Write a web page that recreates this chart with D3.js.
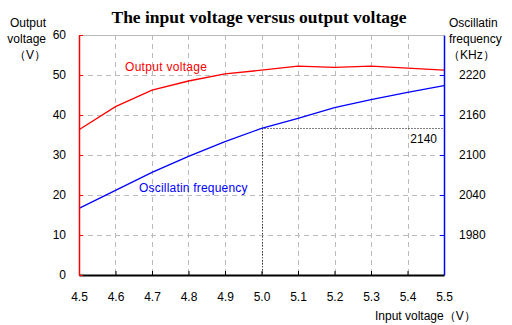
<!DOCTYPE html>
<html><head><meta charset="utf-8">
<script src="https://cdn.jsdelivr.net/npm/d3@7"></script>
<style>
body{margin:0;background:#fff;}
text{font-family:"Liberation Sans",Arial,sans-serif;}
</style></head>
<body><svg id="c" width="512" height="325"></svg>
<script>
const inputVoltage = [4.5, 4.6, 4.7, 4.8, 4.9, 5.0, 5.1, 5.2, 5.3, 5.4, 5.5];
const outputVoltage = [36.3, 42.1, 46.2, 48.5, 50.3, 51.2, 52.2, 51.9, 52.2, 51.7, 51.2];
const frequency = [2020, 2047, 2074, 2098, 2120, 2140, 2155, 2171, 2183, 2194, 2204];
const leftTicks = [0, 10, 20, 30, 40, 50, 60];
const rightTicks = [1980, 2040, 2100, 2160, 2220];
const xTicks = [4.5, 4.6, 4.7, 4.8, 4.9, 5.0, 5.1, 5.2, 5.3, 5.4, 5.5];
const markX = 5.0, markF = 2140;

const svg = d3.select("#c");
const L = 79, R = 444, T = 35, B = 275;
const x = d3.scaleLinear().domain([4.5, 5.5]).range([L, R]);
const yL = d3.scaleLinear().domain([0, 60]).range([B, T]);
const yR = d3.scaleLinear().domain([1920, 2280]).range([B, T]);

// grid
const g = svg.append("g");
g.selectAll(".hg").data(leftTicks.filter(d => d > 0 && d < 60)).enter().append("line")
  .attr("x1", L).attr("x2", R).attr("y1", d => yL(d) + 0.5).attr("y2", d => yL(d) + 0.5)
  .attr("stroke", "#bbb").attr("stroke-dasharray", "5,4");
g.selectAll(".vg").data(xTicks.filter(d => d > 4.5 && d < 5.5)).enter().append("line")
  .attr("x1", d => Math.round(x(d)) + 0.5).attr("x2", d => Math.round(x(d)) + 0.5).attr("y1", T).attr("y2", B)
  .attr("stroke", "#bbb").attr("stroke-dasharray", "5,4");
g.append("line").attr("x1", L).attr("x2", R).attr("y1", T + 0.5).attr("y2", T + 0.5).attr("stroke", "#bbb");

// dotted marker
svg.append("line").attr("x1", Math.round(x(markX)) + 0.5).attr("x2", Math.round(x(markX)) + 0.5)
  .attr("y1", yR(markF)).attr("y2", B).attr("stroke", "#000").attr("stroke-dasharray", "1,2");
svg.append("line").attr("x1", x(markX)).attr("x2", R).attr("y1", Math.round(yR(markF)) + 0.5).attr("y2", Math.round(yR(markF)) + 0.5)
  .attr("stroke", "#000").attr("stroke-dasharray", "1,2");
svg.append("text").attr("x", 437).attr("y", yR(markF) + 15).attr("text-anchor", "end")
  .attr("font-size", 12).text(String(markF));

// lines
const lineL = d3.line().x((d, i) => x(inputVoltage[i])).y(d => yL(d));
const lineR = d3.line().x((d, i) => x(inputVoltage[i])).y(d => yR(d));
svg.append("path").datum(outputVoltage).attr("d", lineL).attr("fill", "none").attr("stroke", "#f00").attr("stroke-width", 1.3);
svg.append("path").datum(frequency).attr("d", lineR).attr("fill", "none").attr("stroke", "#00f").attr("stroke-width", 1.3);

// axes
const ax = svg.append("g").attr("transform", `translate(0,${B})`)
  .call(d3.axisBottom(x).tickValues(xTicks).tickFormat(d3.format(".1f")).tickSizeInner(-4).tickSizeOuter(0).tickPadding(17));
ax.select(".domain").attr("stroke", "#000").attr("stroke-width", 2);
ax.selectAll("text").attr("font-size", 12).attr("fill", "#000");

const al = svg.append("g").attr("transform", `translate(${L},0)`)
  .call(d3.axisLeft(yL).tickValues(leftTicks).tickSizeInner(-4).tickSizeOuter(0).tickPadding(13));
al.select(".domain").attr("stroke", "#f00").attr("stroke-width", 1.5);
al.selectAll(".tick line").attr("stroke", "#f00");
al.selectAll("text").attr("font-size", 12).attr("fill", "#000");

const ar = svg.append("g").attr("transform", `translate(${R},0)`)
  .call(d3.axisRight(yR).tickValues(rightTicks).tickFormat(d3.format("d")).tickSizeInner(-4).tickSizeOuter(0).tickPadding(15));
ar.select(".domain").attr("stroke", "#00f").attr("stroke-width", 1.5);
ar.selectAll(".tick line").attr("stroke", "#00f");
ar.selectAll("text").attr("font-size", 12).attr("fill", "#000");

// title
svg.append("text").attr("x", 259).attr("y", 23).attr("text-anchor", "middle")
  .attr("font-weight", "bold").attr("font-size", 17.5)
  .style("font-family", "'Liberation Serif','Times New Roman',serif").text("The input voltage versus output voltage");

// axis titles
const lt = ["Output", "voltage", "（V）"];
lt.forEach((t, i) => svg.append("text").attr("x", 46).attr("y", 27 + i * 16).attr("text-anchor", "end").attr("font-size", 12).text(t));
const rt = ["Oscillatin", "frequency", "（KHz）"];
rt.forEach((t, i) => svg.append("text").attr("x", i === 2 ? 448 : 449).attr("y", 27 + i * 16).attr("font-size", 12).text(t));
svg.append("text").attr("x", 375).attr("y", 320).attr("font-size", 12).text("Input voltage（V）");

// series labels
svg.append("text").attr("x", 125).attr("y", 71).attr("font-size", 12).attr("fill", "#f00").style("letter-spacing", "0.3px").text("Output voltage");
svg.append("text").attr("x", 139).attr("y", 192).attr("font-size", 12).attr("fill", "#00f").style("letter-spacing", "0.2px").text("Oscillatin frequency");
</script></body></html>
